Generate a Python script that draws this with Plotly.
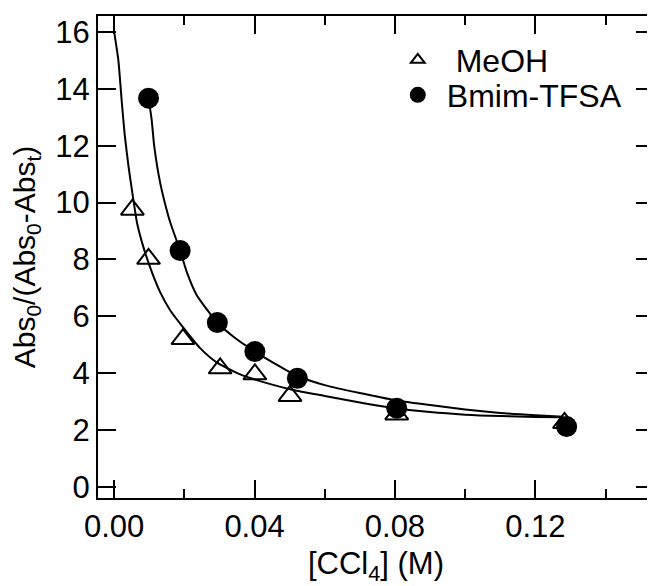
import plotly.graph_objects as go

# Measured data points
meoh_x = [0.0052, 0.0098, 0.0196, 0.0302, 0.0401, 0.0501, 0.0805, 0.1283]
meoh_y = [9.75, 8.02, 5.20, 4.17, 3.96, 3.20, 2.55, 2.25]
bmim_x = [0.0098, 0.0188, 0.0294, 0.0401, 0.0522, 0.0805, 0.1289]
bmim_y = [13.67, 8.31, 5.78, 4.76, 3.82, 2.77, 2.12]

# Fit curves
meoh_fit_x = [0.0000, 0.0012, 0.0022, 0.0030, 0.0041, 0.0052, 0.0065, 0.0083, 0.0107,
              0.0131, 0.0159, 0.0197, 0.0245, 0.0292, 0.0359, 0.0435, 0.0510, 0.0600,
              0.0700, 0.0800, 0.0900, 0.1000, 0.1100, 0.1200, 0.1280]
meoh_fit_y = [16.0, 15.0, 13.5, 12.4, 11.26, 10.33, 9.3, 8.45, 7.57,
              6.85, 6.22, 5.60, 4.88, 4.38, 3.96, 3.65, 3.41, 3.20,
              2.97, 2.77, 2.63, 2.54, 2.49, 2.46, 2.45]
bmim_fit_x = [0.0098, 0.0107, 0.0114, 0.0131, 0.0155, 0.0164, 0.0188, 0.0207, 0.0235,
              0.0294, 0.0340, 0.0401, 0.0473, 0.0522, 0.0600, 0.0700, 0.0800, 0.0900,
              0.1000, 0.1100, 0.1200, 0.1280]
bmim_fit_y = [13.67, 12.9, 12.0, 10.7, 9.5, 9.15, 8.31, 7.55, 6.75,
              5.78, 5.28, 4.76, 4.23, 3.90, 3.58, 3.30, 3.05, 2.88,
              2.72, 2.60, 2.52, 2.47]

x_ticks = [0.00, 0.04, 0.08, 0.12]
y_ticks = [0, 2, 4, 6, 8, 10, 12, 14, 16]

FONT = "Arial, Liberation Sans, sans-serif"

fig = go.Figure()
fig.add_trace(go.Scatter(x=meoh_fit_x, y=meoh_fit_y, mode="lines",
                         line=dict(color="black", width=2, shape="spline", smoothing=0.6),
                         showlegend=False, hoverinfo="skip"))
fig.add_trace(go.Scatter(x=bmim_fit_x, y=bmim_fit_y, mode="lines",
                         line=dict(color="black", width=2, shape="spline", smoothing=0.6),
                         showlegend=False, hoverinfo="skip"))
fig.add_trace(go.Scatter(x=meoh_x, y=meoh_y, mode="markers", name="\u00a0MeOH",
                         marker=dict(symbol="triangle-up-open", size=20, color="black",
                                     line=dict(width=2, color="black")),
                         legend="legend"))
fig.add_trace(go.Scatter(x=bmim_x, y=bmim_y, mode="markers", name="Bmim-TFSA",
                         marker=dict(symbol="circle", size=21, color="black",
                                     line=dict(width=0)),
                         legend="legend2"))

axis_common = dict(showline=True, linewidth=2, linecolor="black", mirror="allticks",
                   ticks="inside", ticklen=18, tickwidth=2, tickcolor="black",
                   showgrid=False, zeroline=False, automargin=False,
                   tickfont=dict(family=FONT, size=31, color="black"))

# The page body adds an 8px offset, so the figure is sized to fit inside the window.
fig.update_layout(
    width=647, height=578,
    margin=dict(l=90, r=1, t=8, b=88),
    paper_bgcolor="white", plot_bgcolor="white",
    font=dict(family=FONT, color="black"),
    xaxis=dict(range=[-0.0046, 0.1538], tickvals=x_ticks, tickformat=".2f",
               minor=dict(dtick=0.02, tick0=0, ticks="inside", ticklen=9, tickwidth=2,
                          tickcolor="black", showgrid=False),
               title=dict(text="[CCl<sub>4</sub>] (M)", font=dict(family=FONT, size=31),
                          standoff=10),
               **axis_common),
    yaxis=dict(range=[-0.39, 16.56], tickvals=y_ticks,
               title=dict(text="Abs<sub>0</sub>/(Abs<sub>0</sub>-Abs<sub>t</sub>)",
                          font=dict(family=FONT, size=30), standoff=21),
               **axis_common),
    legend=dict(x=0.523, y=0.9087, xanchor="left", yanchor="middle",
                font=dict(family=FONT, size=32), bgcolor="rgba(0,0,0,0)",
                itemsizing="constant", itemwidth=48),
    legend2=dict(x=0.523, y=0.836, xanchor="left", yanchor="middle",
                 font=dict(family=FONT, size=32), bgcolor="rgba(0,0,0,0)",
                 itemsizing="trace", itemwidth=48),
)

fig.write_html("out.html")
